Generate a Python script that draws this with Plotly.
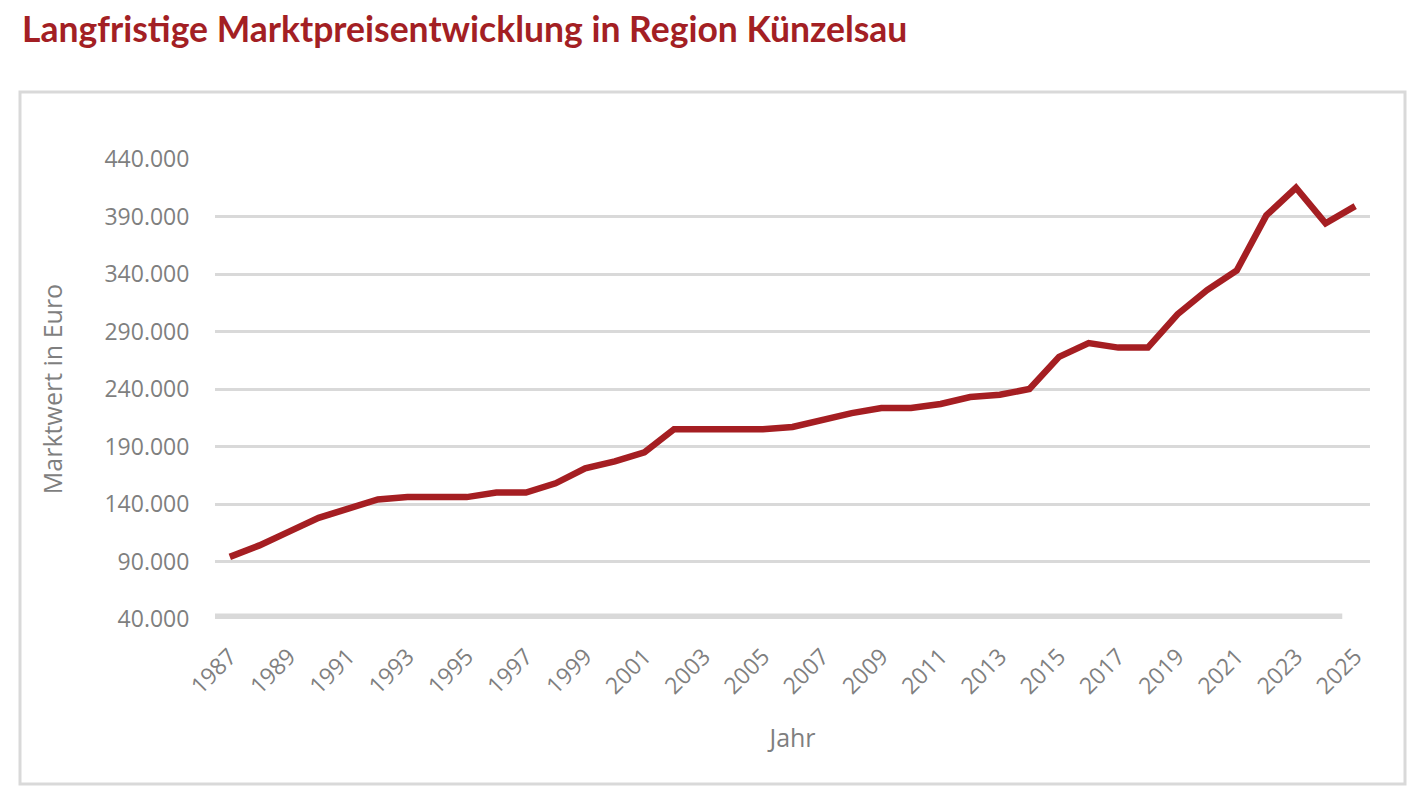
import plotly.graph_objects as go

# %% Marktwerte Region Künzelsau
years = list(range(1987, 2026))
marktwert = [
    94000, 104000, 116000, 128000, 136000, 144000, 146000, 146000, 146000, 150000,
    150000, 158000, 171000, 177000, 185000, 205000, 205000, 205000, 205000, 207000,
    213000, 219000, 223500, 223500, 227000, 233000, 235000, 240000, 268000, 280000,
    276000, 276000, 305000, 326000, 343000, 391000, 415000, 384000, 399000,
]
y_ticks = list(range(40000, 440001, 50000))
x_ticks = years[::2]

red = "#a51e22"
grey_text = "#7f7f7f"
grid = "#d9d9d9"

# page body has an 8px margin, so the figure is a bit smaller than the window
W, H = 1414, 784
L, R, T, B = 207, 52, 151, 173
pw, ph = W - L - R, H - T - B

# %%
fig = go.Figure(
    go.Scatter(
        x=years,
        y=marktwert,
        mode="lines",
        line=dict(color=red, width=6.5),
        showlegend=False,
    )
)

fig.layout.update(
    width=W,
    height=H,
    margin=dict(l=L, r=R, t=T, b=B),
    paper_bgcolor="white",
    plot_bgcolor="white",
    separators=",.",
    font=dict(family="Open Sans", color=grey_text, size=23),
    title=dict(
        text="<b>Langfristige Marktpreisentwicklung in Region Künzelsau</b>",
        font=dict(family="Lato", size=35.5, color="#a31f24"),
        xref="container",
        yref="container",
        x=14 / W,
        xanchor="left",
        y=1 - 22 / H,
        yanchor="middle",
    ),
)

fig.layout.xaxis.update(
    range=[1986.5, 2025.5],
    tickvals=x_ticks,
    tickangle=-45,
    showgrid=False,
    zeroline=False,
    showline=False,
    ticks="outside",
    ticklen=14,
    tickcolor="rgba(0,0,0,0)",
    title=dict(text="Jahr", font=dict(size=25), standoff=30),
)
fig.layout.yaxis.update(
    range=[40000, 440000],
    tickvals=y_ticks,
    tickformat=",d",
    showgrid=True,
    gridcolor=grid,
    gridwidth=2.5,
    zeroline=False,
    ticks="outside",
    ticklen=20,
    tickcolor="rgba(0,0,0,0)",
    title=dict(text="Marktwert in Euro", font=dict(size=25), standoff=34),
)

# thick grey band along the category axis
fig.add_shape(
    type="line",
    xref="paper",
    yref="y",
    x0=0,
    x1=0.976,
    y0=y_ticks[0],
    y1=y_ticks[0],
    line=dict(color=grid, width=11),
    layer="below",
)

# frame around the chart area
fig.add_shape(
    type="rect",
    xref="paper",
    yref="paper",
    x0=(12 - L) / pw,
    x1=(1397 - L) / pw,
    y0=(H - B - 776) / ph,
    y1=(H - B - 84) / ph,
    line=dict(color=grid, width=3),
    fillcolor="rgba(0,0,0,0)",
    layer="below",
)

fig.write_html("out.html")
